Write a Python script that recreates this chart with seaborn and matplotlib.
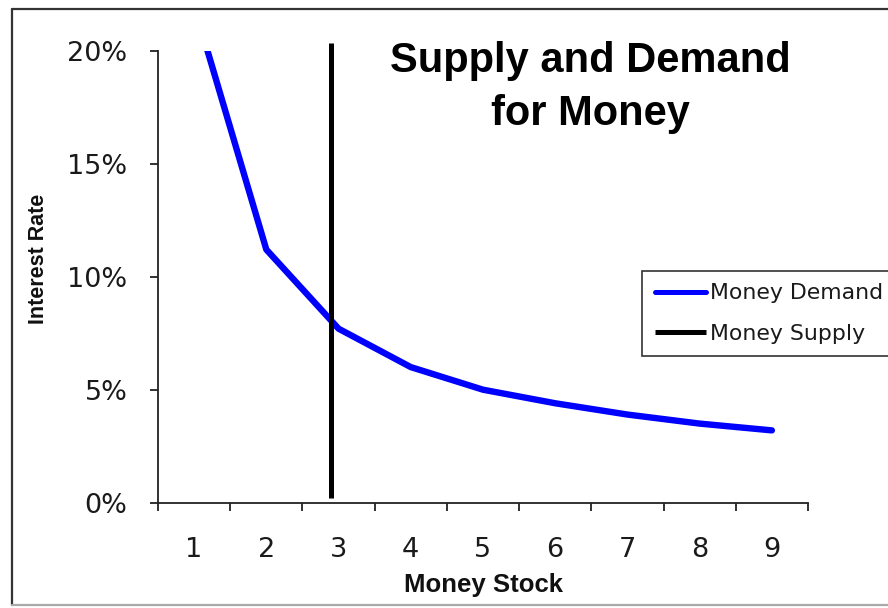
import matplotlib
matplotlib.use("Agg")
import matplotlib.pyplot as plt
from matplotlib.lines import Line2D
from matplotlib.ticker import FixedLocator, FuncFormatter
import pandas as pd
import seaborn as sns

# values (interest rate in %)
money_stock = [1, 2, 3, 4, 5, 6, 7, 8, 9]
demand_rate = [22.0, 11.2, 7.7, 6.0, 5.0, 4.4, 3.9, 3.5, 3.2]
supply_stock = [2.9, 2.9]
supply_rate = [0.2, 20.35]
y_ticks = [0, 5, 10, 15, 20]

sns.set_theme(style="white")
plt.rcParams["font.family"] = ["DejaVu Sans"]

W, H = 888, 608
fig = plt.figure(figsize=(W / 100, H / 100), dpi=100)
ax = fig.add_axes([158 / W, 1 - 502.7 / H, 650 / W, 452 / H])

demand = pd.DataFrame({"stock": money_stock, "rate": demand_rate})
supply = pd.DataFrame({"stock": supply_stock, "rate": supply_rate})

sns.lineplot(data=demand, x="stock", y="rate", ax=ax, color="#0000FF",
             linewidth=4.6, sort=False, estimator=None, errorbar=None,
             label="Money Demand")
sns.lineplot(data=supply, x="stock", y="rate", ax=ax, color="black",
             linewidth=3.6, sort=False, estimator=None, errorbar=None,
             label="Money Supply")
supply_line = ax.lines[1]
supply_line.set_clip_on(False)
supply_line.set_solid_capstyle("butt")

ax.set_xlim(0.5, 9.5)
ax.set_ylim(0, 20)

# category-style x axis: ticks between categories, labels at centers
ax.xaxis.set_major_locator(FixedLocator([i + 0.5 for i in range(0, 10)]))
ax.xaxis.set_major_formatter(FuncFormatter(lambda v, p: ""))
ax.xaxis.set_minor_locator(FixedLocator(money_stock))
ax.xaxis.set_minor_formatter(FuncFormatter(lambda v, p: f"{v:.0f}"))
ax.tick_params(axis="x", which="major", direction="out", length=6, width=1.3,
               color="#222222", bottom=True)
ax.tick_params(axis="x", which="minor", length=0, pad=25, labelsize=19.5,
               labelcolor="#1a1a1a", bottom=True)

ax.set_yticks(y_ticks)
ax.yaxis.set_major_formatter(FuncFormatter(lambda v, p: f"{v:.0f}%"))
ax.tick_params(axis="y", direction="out", length=6, width=1.3, color="#222222",
               pad=16, labelsize=19.5, labelcolor="#1a1a1a", left=True)

for side in ["top", "right"]:
    ax.spines[side].set_visible(False)
for side in ["left", "bottom"]:
    ax.spines[side].set_color("#222222")
    ax.spines[side].set_linewidth(1.3)

ax.set_xlabel("Money Stock", fontsize=18.5, fontweight="bold",
              family="Liberation Sans", labelpad=7, color="#111111")
ax.set_ylabel("Interest Rate", fontsize=15.5, fontweight="bold",
              family="Liberation Sans", color="#111111")
ax.yaxis.set_label_coords(-0.168, 0.54)

fig.text(590 / W, 1 - 41 / H, "Supply and Demand\nfor Money", ha="center",
         va="top", fontsize=30, fontweight="bold", family="Liberation Sans",
         color="black", linespacing=1.42)

leg = ax.legend(loc="upper left", bbox_to_anchor=(642 / W, 1 - 270.7 / H),
                bbox_transform=fig.transFigure, fontsize=15.8, frameon=True,
                fancybox=False, edgecolor="black", handlelength=2.35,
                handletextpad=0.15, borderpad=0.58, labelspacing=0.92,
                borderaxespad=0)
leg.get_frame().set_linewidth(1.2)
for h in leg.get_lines():
    h.set_linewidth(3.6)
for t in leg.get_texts():
    t.set_color("#1a1a1a")

# chart-area border, cropped on the right like the reference
fig.add_artist(Line2D([11.7 / W, 11.7 / W], [1 - 605 / H, 1 - 9.3 / H],
                      color="#333333", linewidth=1.6, transform=fig.transFigure))
fig.add_artist(Line2D([11.7 / W, 1.0], [1 - 9.3 / H, 1 - 9.3 / H],
                      color="#333333", linewidth=1.6, transform=fig.transFigure))
fig.add_artist(Line2D([11.7 / W, 1.0], [1 - 605 / H, 1 - 605 / H],
                      color="#aaaaaa", linewidth=1.6, transform=fig.transFigure))

fig.savefig("out.png", dpi=100, facecolor="white")
